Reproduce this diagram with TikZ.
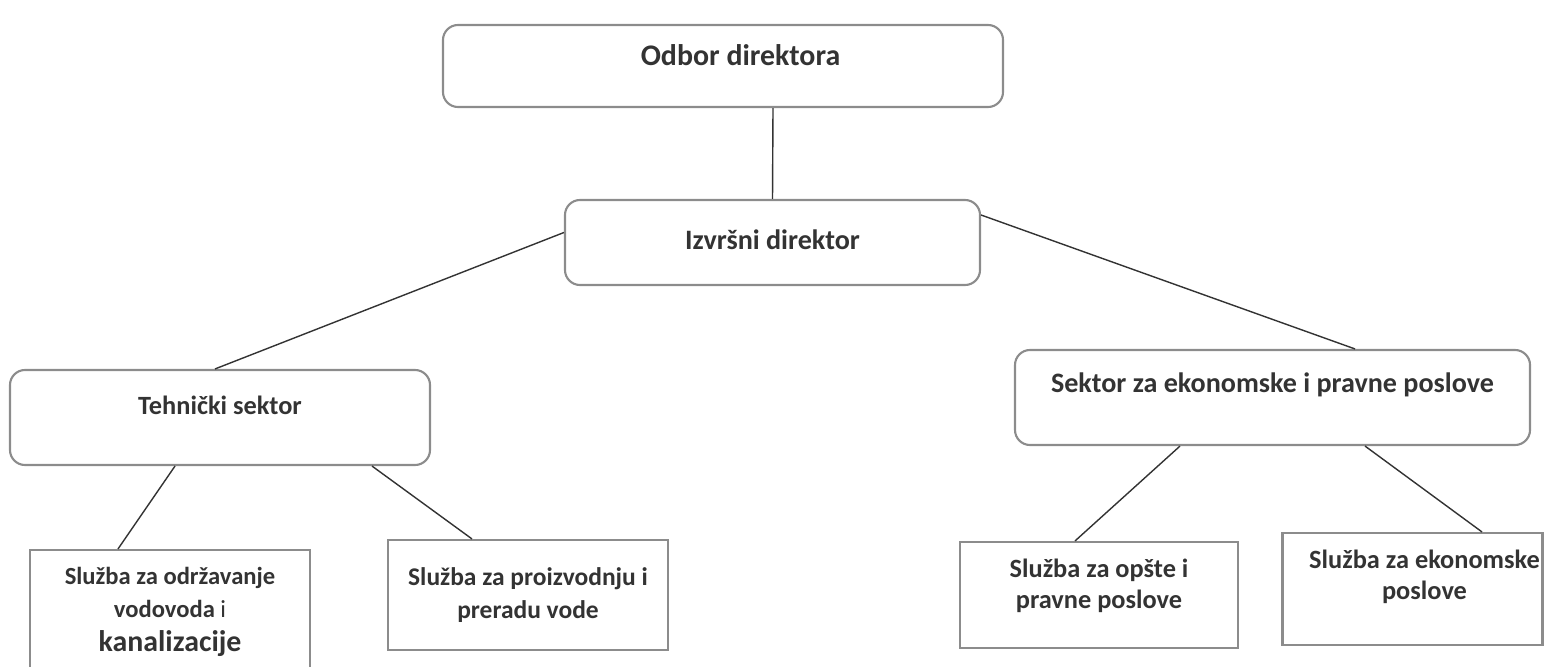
\documentclass[tikz,border=0pt]{standalone}
\usepackage{fontspec}
\setmainfont{Carlito}
\definecolor{boxgray}{gray}{0.55}
\definecolor{inkgray}{gray}{0.2}
\tikzset{
  headbox/.style={draw=boxgray, line width=1.2pt, rounded corners=0.3cm, inner sep=0pt},
  unitbox/.style={draw=boxgray, line width=1.2pt, inner sep=0pt},
  headtext/.style={text=inkgray, font=\fontsize{16}{19}\selectfont\bfseries},
  unittext/.style={text=inkgray, align=center, font=\fontsize{15}{18}\selectfont\bfseries},
  link/.style={draw=inkgray, line width=0.8pt}
}
\begin{document}
\begin{tikzpicture}
    \useasboundingbox (0,0) rectangle (30.92,-13.34);

    % uprava
    \node[headbox, minimum width=11.2cm, minimum height=1.64cm,
      label={[headtext, font=\fontsize{17}{20}\selectfont\bfseries, xshift=0.35cm, yshift=0.22cm]center:Odbor direktora}] (odbor) at (14.46,-1.32) {};
    \node[headbox, minimum width=8.3cm, minimum height=1.7cm,
      label={[headtext, yshift=0.05cm]center:Izvršni direktor}] (izvrsni) at (15.45,-4.85) {};

    % sektori
    \node[headbox, minimum width=8.4cm, minimum height=1.9cm,
      label={[headtext, font=\fontsize{15}{18}\selectfont\bfseries, yshift=0.25cm]center:Tehnički sektor}] (tehnicki) at (4.4,-8.35) {};
    \node[headbox, minimum width=10.3cm, minimum height=1.9cm,
      label={[headtext, yshift=0.25cm]center:Sektor za ekonomske i pravne poslove}] (ekonomski) at (25.45,-7.95) {};

    % sluzbe
    \node[unitbox, minimum width=5.6cm, minimum height=2.36cm,
      label={[unittext, font=\fontsize{14}{19}\selectfont\bfseries, yshift=-0.05cm]center:Služba za održavanje\\vodovoda {\mdseries i}\\{\fontsize{17}{20}\selectfont kanalizacije}}] (odrzavanje) at (3.4,-12.18) {};
    \node[unitbox, minimum width=5.6cm, minimum height=2.2cm,
      label={[unittext, font=\fontsize{14.5}{19}\selectfont\bfseries]center:Služba za proizvodnju i\\preradu vode}] (proizvodnja) at (10.56,-11.9) {};
    \node[unitbox, minimum width=5.56cm, minimum height=2.12cm,
      label={[unittext, yshift=0.18cm]center:Služba za opšte i\\pravne poslove}] (opste) at (21.98,-11.9) {};
    \node[unitbox, minimum width=5.2cm, minimum height=2.24cm,
      label={[unittext, xshift=0.24cm, yshift=0.24cm]center:Služba za ekonomske\\poslove}] (ekonomske) at (28.25,-11.78) {};

    \draw[link] ([xshift=1cm]odbor.south) -- (izvrsni.north);
    \draw[link] ([yshift=0.2cm]izvrsni.west) -- ([xshift=-0.1cm]tehnicki.north);
    \draw[link] ([yshift=0.55cm]izvrsni.east) -- ([xshift=1.65cm]ekonomski.north);
    \draw[link] ([xshift=-0.9cm]tehnicki.south) -- ([xshift=-1.04cm]odrzavanje.north);
    \draw[link] ([xshift=3.04cm]tehnicki.south) -- ([xshift=-1.12cm]proizvodnja.north);
    \draw[link] ([xshift=-1.85cm]ekonomski.south) -- ([xshift=-0.48cm]opste.north);
    \draw[link] ([xshift=1.85cm]ekonomski.south) -- ([xshift=1.39cm]ekonomske.north);
\end{tikzpicture}
\end{document}
